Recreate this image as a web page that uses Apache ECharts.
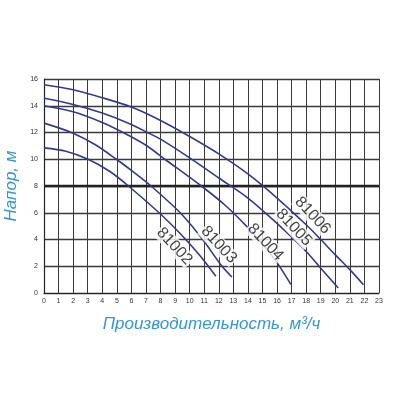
<!DOCTYPE html>
<html>
<head>
<meta charset="utf-8">
<style>html,body{margin:0;padding:0;background:#fff}#c{width:400px;height:400px}</style>
<script src="https://cdn.jsdelivr.net/npm/echarts@6/dist/echarts.min.js"></script>
</head>
<body>
<div id="c"></div>
<script>
// Flow (m3/h) and head (m), per pump model
var names = ['81002', '81003', '81004', '81005', '81006'];
var q81002 = [0, 1.5, 3.03, 4.5, 5.8, 7.9, 9.3, 10.7, 11.8];
var h81002 = [10.85, 10.6, 10.0, 9.1, 8.0, 6.0, 4.5, 2.8, 1.25];
var q81003 = [0, 1.88, 3.5, 4.97, 6.2, 7.35, 9.35, 10.9, 12.15, 12.9];
var h81003 = [12.7, 12.0, 11.1, 10.0, 9.0, 8.0, 6.0, 4.0, 2.1, 1.2];
var q81004 = [0, 2, 4, 5.43, 7, 8.3, 10.8, 12.4, 13.9, 15.2, 16.1, 16.96];
var h81004 = [14.0, 13.55, 12.75, 12.0, 11.05, 10.0, 8.0, 6.6, 5.0, 3.4, 2.1, 0.62];
var q81005 = [0, 2, 4, 6, 7.1, 8, 10, 12, 14, 16, 18, 19, 20.2];
var h81005 = [14.56, 14.1, 13.45, 12.6, 12.0, 11.5, 10.1, 8.6, 7.1, 5.2, 3.1, 1.85, 0.37];
var q81006 = [0, 2, 4, 6, 8, 10, 12, 14, 16, 18, 19, 20, 21, 21.93];
var h81006 = [15.57, 15.2, 14.6, 13.9, 12.9, 11.7, 10.4, 8.9, 7.1, 5.1, 4.0, 2.85, 1.75, 0.62];
// Curve label anchors (data coordinates)
var labelQ = [8.95, 12.0, 15.2, 17.15, 18.45];
var labelH = [3.5, 3.6, 3.8, 4.9, 5.8];
var xTicks = {min: 0, max: 23, step: 1};
var yTicks = {min: 0, max: 16, step: 2};

var qs = [q81002, q81003, q81004, q81005, q81006];
var hs = [h81002, h81003, h81004, h81005, h81006];

function pairs(q, h) { return q.map(function (v, i) { return [v, h[i]]; }); }

var curveColor = '#33398f';
var series = names.map(function (n, i) {
  var s = {
    name: n, type: 'line', data: pairs(qs[i], hs[i]), smooth: 0.3,
    showSymbol: false, symbol: 'none', z: 3,
    lineStyle: {color: curveColor, width: 1.6}
  };
  if (i === 0) {
    s.markLine = {
      silent: true, symbol: 'none', label: {show: false}, z: 2,
      lineStyle: {color: '#222', width: 2.4, type: 'solid'},
      data: [{yAxis: 8}]
    };
  }
  return s;
});
series.push({
  type: 'scatter', z: 10, symbolSize: 0,
  data: names.map(function (n, i) { return {value: [labelQ[i], labelH[i]], name: n}; }),
  label: {
    show: true, position: 'inside', formatter: '{b}', rotate: -47,
    fontFamily: 'Liberation Sans', fontSize: 16, color: '#111',
    backgroundColor: '#fff', padding: [0, 1]
  }
});

var chart = echarts.init(document.getElementById('c'), null, {renderer: 'canvas'});
chart.setOption({
  animation: false,
  backgroundColor: '#fff',
  grid: {left: 44, right: 21, top: 79, bottom: 107, containLabel: false, outerBoundsMode: 'none'},
  xAxis: {
    type: 'value', min: xTicks.min, max: xTicks.max, interval: xTicks.step,
    name: 'Производительность, м³/ч', nameLocation: 'middle', nameGap: 23,
    nameTextStyle: {fontFamily: 'Liberation Sans', fontStyle: 'italic', fontSize: 17, color: '#3496d3'},
    axisLine: {show: true, lineStyle: {color: '#222', width: 1.2}},
    axisTick: {show: false},
    axisLabel: {fontFamily: 'Liberation Sans', fontSize: 7, color: '#333', margin: 5},
    splitLine: {show: true, showMinLine: true, showMaxLine: true, lineStyle: {color: '#3a3a3a', width: 1}}
  },
  yAxis: {
    type: 'value', min: yTicks.min, max: yTicks.max, interval: yTicks.step,
    name: 'Напор, м', nameLocation: 'middle', nameGap: 19, nameRotate: 90,
    nameTextStyle: {fontFamily: 'Liberation Sans', fontStyle: 'italic', fontSize: 17, color: '#3496d3'},
    axisLine: {show: true, lineStyle: {color: '#222', width: 1.2}},
    axisTick: {show: false},
    axisLabel: {fontFamily: 'Liberation Sans', fontSize: 7, color: '#333', margin: 6},
    splitLine: {show: true, showMinLine: true, showMaxLine: true, lineStyle: {color: '#3a3a3a', width: 1.3}}
  },
  series: series
});
</script>
</body>
</html>
